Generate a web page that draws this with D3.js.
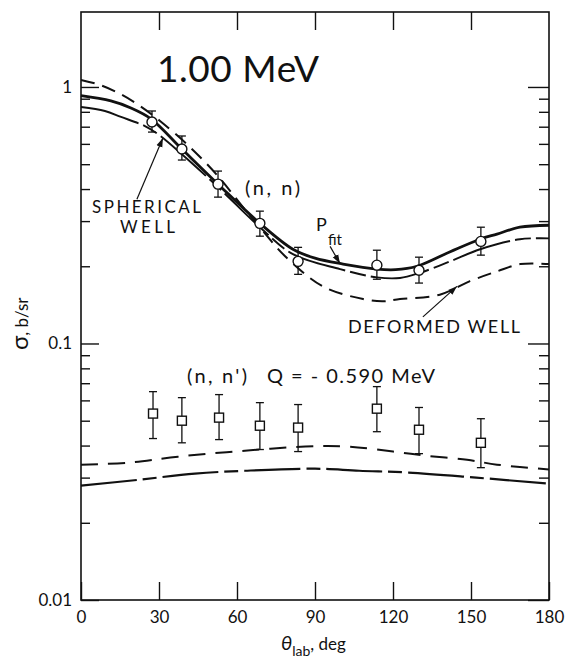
<!DOCTYPE html>
<html>
<head>
<meta charset="utf-8">
<script src="https://cdn.jsdelivr.net/npm/d3@7"></script>
<style>
  body { margin: 0; background: #fff; }
  svg { display: block; }
  text { font-family: Lato, "DejaVu Sans", sans-serif; fill: #111; }
  .axis text { font-size: 17px; }
  .axis line { stroke: #111; stroke-width: 1.4; }
</style>
</head>
<body>
<script>
// measured (n,n) points, 1.00 MeV
var elasticAngle = [27.3, 38.8, 52.7, 68.8, 83.5, 113.8, 130, 153.8];
var elasticSigma = [0.73, 0.573, 0.418, 0.294, 0.209, 0.202, 0.193, 0.25];
var elasticLow   = [0.667, 0.519, 0.372, 0.262, 0.186, 0.178, 0.172, 0.221];
var elasticHigh  = [0.806, 0.644, 0.470, 0.328, 0.237, 0.231, 0.217, 0.284];

// measured (n,n') points, Q = -0.590 MeV
var inelasticAngle = [27.7, 38.8, 53.1, 68.8, 83.5, 113.8, 130, 153.8];
var inelasticSigma = [0.0533, 0.050, 0.0514, 0.0478, 0.0470, 0.0557, 0.0461, 0.0410];
var inelasticLow   = [0.0426, 0.0410, 0.0422, 0.0386, 0.0379, 0.0453, 0.0372, 0.0328];
var inelasticHigh  = [0.0649, 0.0615, 0.0632, 0.0588, 0.0578, 0.0679, 0.0563, 0.0509];

// calculated curves
var pfitAngle = [0, 11.5, 19.2, 27, 38.8, 52.7, 68.8, 81.5, 90, 100.8, 113.8, 121, 129.2, 142, 153.5, 160, 168.8, 180];
var pfitSigma = [0.925, 0.882, 0.828, 0.75, 0.573, 0.418, 0.294, 0.233, 0.215, 0.204, 0.195, 0.194, 0.2, 0.228, 0.255, 0.267, 0.284, 0.289];

var sphElAngle = [0, 9.2, 15.4, 24.6, 29.6, 38.8, 52.7, 68.8, 81.5, 99.6, 113.8, 122.7, 130, 142, 153.5, 168.8, 180];
var sphElSigma = [0.835, 0.806, 0.764, 0.704, 0.655, 0.547, 0.407, 0.284, 0.223, 0.195, 0.181, 0.180, 0.188, 0.209, 0.233, 0.255, 0.257];

var defElAngle = [0, 7.3, 15, 22.7, 30.4, 41.9, 52.7, 62.3, 70.4, 78.5, 93, 108.5, 116, 122.7, 138, 149.6, 160, 169, 180];
var defElSigma = [1.065, 1.018, 0.94, 0.843, 0.737, 0.583, 0.449, 0.34, 0.271, 0.219, 0.167, 0.149, 0.146, 0.149, 0.155, 0.175, 0.191, 0.204, 0.204];

var defInAngle = [0, 18, 37.3, 63, 90, 103.5, 120, 133, 148.5, 160, 180];
var defInSigma = [0.0337, 0.0343, 0.0362, 0.0382, 0.0398, 0.0396, 0.0379, 0.0365, 0.0352, 0.0337, 0.0323];

var sphInAngle = [0, 21.9, 43.8, 63, 90, 107, 126, 152, 180];
var sphInSigma = [0.0279, 0.0294, 0.0311, 0.0319, 0.0325, 0.0319, 0.0314, 0.0300, 0.0284];

var xTicks = [0, 30, 60, 90, 120, 150, 180];
var yMajor = [0.01, 0.1, 1];
var yLabels = ["0.01", "0.1", "1"];

var W = 573, H = 658;
var svg = d3.select("body").append("svg")
    .attr("width", W)
    .attr("height", H);

var x = d3.scaleLinear().domain([0, 180]).range([81, 549]);
var y = d3.scaleLog().domain([0.01, 1.96]).range([600, 12]);

var yMinor = y.ticks().filter(function(v) {
    return yMajor.indexOf(v) < 0 && v < 1.96;
});

// axes, all ticks point inward
svg.append("g").attr("class", "axis")
    .attr("transform", "translate(" + x(0) + ",0)")
    .call(d3.axisLeft(y).tickValues(yMajor).tickSize(-18).tickSizeOuter(0).tickPadding(9)
        .tickFormat(function(d, i) { return yLabels[i]; }));
svg.append("g").attr("class", "axis")
    .attr("transform", "translate(" + x(0) + ",0)")
    .call(d3.axisLeft(y).tickValues(yMinor).tickSize(-9).tickSizeOuter(0).tickFormat(""));
svg.append("g").attr("class", "axis")
    .attr("transform", "translate(" + x(180) + ",0)")
    .call(d3.axisRight(y).tickValues(yMajor).tickSize(-21).tickSizeOuter(0).tickFormat(""));
svg.append("g").attr("class", "axis")
    .attr("transform", "translate(" + x(180) + ",0)")
    .call(d3.axisRight(y).tickValues(yMinor).tickSize(-10).tickSizeOuter(0).tickFormat(""));
svg.append("g").attr("class", "axis")
    .attr("transform", "translate(0," + y(0.01) + ")")
    .call(d3.axisBottom(x).tickValues(xTicks).tickSize(-18).tickSizeOuter(0).tickPadding(11));
svg.append("g").attr("class", "axis")
    .attr("transform", "translate(0," + y.range()[1] + ")")
    .call(d3.axisTop(x).tickValues(xTicks.slice(1, -1)).tickSize(-18).tickSizeOuter(0).tickFormat(""));
svg.selectAll(".axis .domain").remove();

// frame
svg.append("rect")
    .attr("x", x(0)).attr("y", y.range()[1])
    .attr("width", x(180) - x(0)).attr("height", y(0.01) - y.range()[1])
    .attr("fill", "none").attr("stroke", "#111").attr("stroke-width", 1.6);

// curves
var line = d3.line()
    .x(function(d) { return x(d[0]); })
    .y(function(d) { return y(d[1]); })
    .curve(d3.curveCatmullRom.alpha(0.5));

function drawCurve(ang, sig, width, dash) {
    svg.append("path")
        .datum(d3.zip(ang, sig))
        .attr("d", line)
        .attr("fill", "none")
        .attr("stroke", "#111")
        .attr("stroke-width", width)
        .attr("stroke-dasharray", dash);
}
drawCurve(defElAngle, defElSigma, 2, "14,8");
drawCurve(sphElAngle, sphElSigma, 1.9, "60,5,16,5");
drawCurve(pfitAngle, pfitSigma, 2.8, null);
drawCurve(defInAngle, defInSigma, 2, "17,10");
drawCurve(sphInAngle, sphInSigma, 2.2, "56,6,14,6");

// error bars
function drawErrors(ang, low, high) {
    var g = svg.append("g").attr("stroke", "#111").attr("stroke-width", 1.3);
    ang.forEach(function(a, i) {
        g.append("line").attr("x1", x(a)).attr("x2", x(a))
            .attr("y1", y(low[i])).attr("y2", y(high[i]));
        [low[i], high[i]].forEach(function(v) {
            g.append("line").attr("x1", x(a) - 4).attr("x2", x(a) + 4)
                .attr("y1", y(v)).attr("y2", y(v));
        });
    });
}
drawErrors(elasticAngle, elasticLow, elasticHigh);
drawErrors(inelasticAngle, inelasticLow, inelasticHigh);

svg.selectAll(".el")
    .data(d3.zip(elasticAngle, elasticSigma))
    .enter().append("circle")
    .attr("cx", function(d) { return x(d[0]); })
    .attr("cy", function(d) { return y(d[1]); })
    .attr("r", 5)
    .attr("fill", "#fff").attr("stroke", "#111").attr("stroke-width", 1.4);

svg.selectAll(".inel")
    .data(d3.zip(inelasticAngle, inelasticSigma))
    .enter().append("rect")
    .attr("x", function(d) { return x(d[0]) - 4.5; })
    .attr("y", function(d) { return y(d[1]) - 4.5; })
    .attr("width", 9).attr("height", 9)
    .attr("fill", "#fff").attr("stroke", "#111").attr("stroke-width", 1.4);

// arrows
svg.append("defs").append("marker")
    .attr("id", "head")
    .attr("viewBox", "0 0 10 10")
    .attr("refX", 10).attr("refY", 5)
    .attr("markerWidth", 9).attr("markerHeight", 9)
    .attr("markerUnits", "userSpaceOnUse")
    .attr("orient", "auto")
    .append("path").attr("d", "M0,1.5L10,5L0,8.5z").attr("fill", "#111");

var arrows = [
    [[21.5, 0.365], [31.5, 0.632]],
    [[95.8, 0.239], [99.6, 0.205]],
    [[131.5, 0.127], [144.6, 0.167]]
];
arrows.forEach(function(a) {
    svg.append("line")
        .attr("x1", x(a[0][0])).attr("y1", y(a[0][1]))
        .attr("x2", x(a[1][0])).attr("y2", y(a[1][1]))
        .attr("stroke", "#111").attr("stroke-width", 1.2)
        .attr("marker-end", "url(#head)");
});

// labels
function label(str, px, py, size, len) {
    var t = svg.append("text").attr("x", px).attr("y", py)
        .style("font-size", size + "px").text(str);
    if (len) t.attr("textLength", len).attr("lengthAdjust", "spacing");
    return t;
}
label("1.00 MeV", 157, 82, 37, 162);
label("(n, n)", 245, 195, 20, 55);
label("SPHERICAL", 92, 213, 17, 109);
label("WELL", 120, 233, 17, 55);
label("DEFORMED WELL", 348, 333, 18, 172);
label("(n, n')", 187, 383, 20, 60);
label("Q = - 0.590 MeV", 267, 383, 20, 168);

label("P", 316, 231, 18);
label("fit", 328, 245, 15);

// axis titles
var yt = svg.append("text")
    .attr("transform", "translate(28,350) rotate(-90)");
yt.append("tspan").style("font-size", "24px").text("σ");
yt.append("tspan").style("font-size", "17px").text(", b/sr");

var xt = svg.append("text").attr("x", 281).attr("y", 650);
xt.append("tspan").style("font-size", "20px").style("font-style", "italic").text("θ");
xt.append("tspan").attr("dy", 6).style("font-size", "14px").text("lab");
xt.append("tspan").attr("dy", -6).style("font-size", "17px").text(", deg");
</script>
</body>
</html>
